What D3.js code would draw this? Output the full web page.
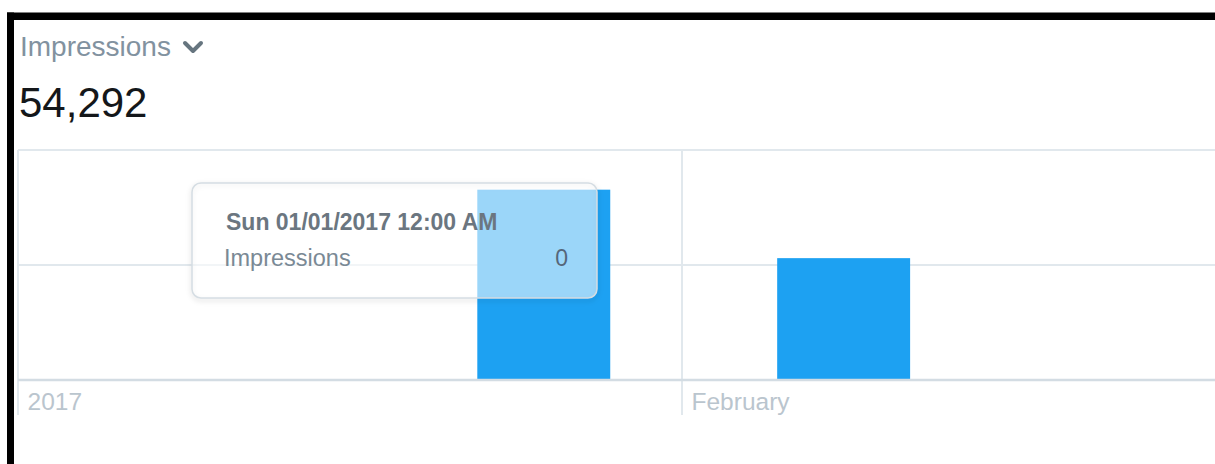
<!DOCTYPE html>
<html>
<head>
<meta charset="utf-8">
<script src="https://cdn.jsdelivr.net/npm/d3@7"></script>
<style>
    html, body { margin: 0; padding: 0; background: #ffffff; }
    svg { display: block; font-family: 'Liberation Sans', Arial, sans-serif; }
</style>
</head>
<body>
<script>
// weekly buckets (week starting on Sunday) and impression counts
const weekStarts = ['2017-01-01', '2017-01-08', '2017-01-15', '2017-01-22', '2017-01-29', '2017-02-05', '2017-02-12', '2017-02-19'];
const impressions = [0, 0, 0, 33100, 0, 21192, 0, 0];

const yTicks = [0, 20000, 40000];
const metricLabel = 'Impressions';
const tooltipTitle = 'Sun 01/01/2017 12:00 AM';
const tooltipValue = 0;

drawBarChart();

/*
 * Draws the impressions panel: header, total, weekly bars and hover tooltip.
 */
function drawBarChart()
{
    const width = 1215;
    const height = 464;

    const plotLeft = 18;
    const plotTop = 150;
    const plotBottom = 380;

    const parseDate = d3.timeParse('%Y-%m-%d');
    const data = weekStarts.map((d, i) => ({ date: parseDate(d), value: impressions[i] }));

    const svg = d3.select('body')
        .append('svg')
        .attr('width', width)
        .attr('height', height);

    // soft blur used for the tooltip shadow (only the outline is blurred,
    // so nothing grey shows through the translucent tooltip body)
    const defs = svg.append('defs');
    defs.append('filter')
        .attr('id', 'tip-blur')
        .attr('x', '-10%').attr('y', '-20%')
        .attr('width', '120%').attr('height', '150%')
        .append('feGaussianBlur')
        .attr('stdDeviation', 2.5);

    // scales: one day is ~21.4px, January spans 18 -> 682
    const x = d3.scaleTime()
        .domain([parseDate('2017-01-01'), parseDate('2017-02-26')])
        .range([plotLeft, plotLeft + 56 * (664 / 31)]);
    const y = d3.scaleLinear()
        .domain([0, 40000])
        .range([plotBottom, plotTop]);

    // header
    svg.append('text')
        .attr('x', 20)
        .attr('y', 56)
        .attr('font-size', 28)
        .attr('fill', '#8292a0')
        .text(metricLabel);

    svg.append('path')
        .attr('d', 'M185,43 L193,51 L201,43')
        .attr('fill', 'none')
        .attr('stroke', '#66757f')
        .attr('stroke-width', 4)
        .attr('stroke-linecap', 'round')
        .attr('stroke-linejoin', 'round');

    svg.append('text')
        .attr('x', 19)
        .attr('y', 117)
        .attr('font-size', 42)
        .attr('fill', '#14171a')
        .text(d3.format(',')(d3.sum(impressions)));

    // horizontal grid lines
    svg.selectAll('line.h-grid')
        .data(yTicks.filter(d => d !== 0))
        .enter()
        .append('line')
        .attr('class', 'h-grid')
        .attr('x1', plotLeft)
        .attr('x2', width)
        .attr('y1', d => y(d))
        .attr('y2', d => y(d))
        .attr('stroke', '#e1e8ed')
        .attr('stroke-width', 2);

    // month ticks (vertical lines + labels)
    const months = x.ticks(d3.timeMonth.every(1));
    const monthFormat = d => d.getMonth() === 0 ? d3.timeFormat('%Y')(d) : d3.timeFormat('%B')(d);

    svg.selectAll('line.v-grid')
        .data(months)
        .enter()
        .append('line')
        .attr('class', 'v-grid')
        .attr('x1', d => x(d))
        .attr('x2', d => x(d))
        .attr('y1', plotTop)
        .attr('y2', 415)
        .attr('stroke', '#e1e8ed')
        .attr('stroke-width', 2);

    svg.selectAll('text.month-label')
        .data(months)
        .enter()
        .append('text')
        .attr('class', 'month-label')
        .attr('x', d => x(d) + 9.5)
        .attr('y', 410)
        .attr('font-size', 24.5)
        .attr('fill', '#bac5ce')
        .text(monthFormat);

    // bars
    svg.selectAll('rect.bar')
        .data(data)
        .enter()
        .append('rect')
        .attr('class', 'bar')
        .attr('x', d => x(d.date) + 9.5)
        .attr('width', d => x(d3.timeDay.offset(d.date, 7)) - x(d.date) - 17)
        .attr('y', d => y(d.value))
        .attr('height', d => y(0) - y(d.value))
        .attr('fill', '#1da1f2');

    // baseline
    svg.append('line')
        .attr('x1', plotLeft)
        .attr('x2', width)
        .attr('y1', y(0))
        .attr('y2', y(0))
        .attr('stroke', '#d3dce3')
        .attr('stroke-width', 2.5);

    // tooltip for the hovered week
    const tip = svg.append('g').attr('transform', 'translate(192,183)');

    tip.append('rect')
        .attr('y', 2)
        .attr('width', 405)
        .attr('height', 115)
        .attr('rx', 9)
        .attr('fill', 'none')
        .attr('stroke', 'rgba(0,0,0,0.10)')
        .attr('stroke-width', 3)
        .attr('filter', 'url(#tip-blur)');

    tip.append('rect')
        .attr('width', 405)
        .attr('height', 115)
        .attr('rx', 9)
        .attr('fill', 'rgba(255,255,255,0.56)')
        .attr('stroke', '#d5dde3')
        .attr('stroke-width', 1.5);

    tip.append('text')
        .attr('x', 34)
        .attr('y', 47)
        .attr('font-size', 23)
        .attr('font-weight', 'bold')
        .attr('fill', '#6b7680')
        .text(tooltipTitle);

    tip.append('text')
        .attr('x', 32)
        .attr('y', 83)
        .attr('font-size', 23.5)
        .attr('fill', '#7a8995')
        .text(metricLabel);

    tip.append('text')
        .attr('x', 376)
        .attr('y', 83)
        .attr('text-anchor', 'end')
        .attr('font-size', 23)
        .attr('fill', '#55667a')
        .text(tooltipValue);

    // black frame along the top and left
    svg.append('rect')
        .attr('x', 7)
        .attr('y', 12.5)
        .attr('width', width - 7)
        .attr('height', 7.5)
        .attr('fill', '#000');
    svg.append('rect')
        .attr('x', 7)
        .attr('y', 12.5)
        .attr('width', 7)
        .attr('height', height - 12.5)
        .attr('fill', '#000');
}
</script>
</body>
</html>
